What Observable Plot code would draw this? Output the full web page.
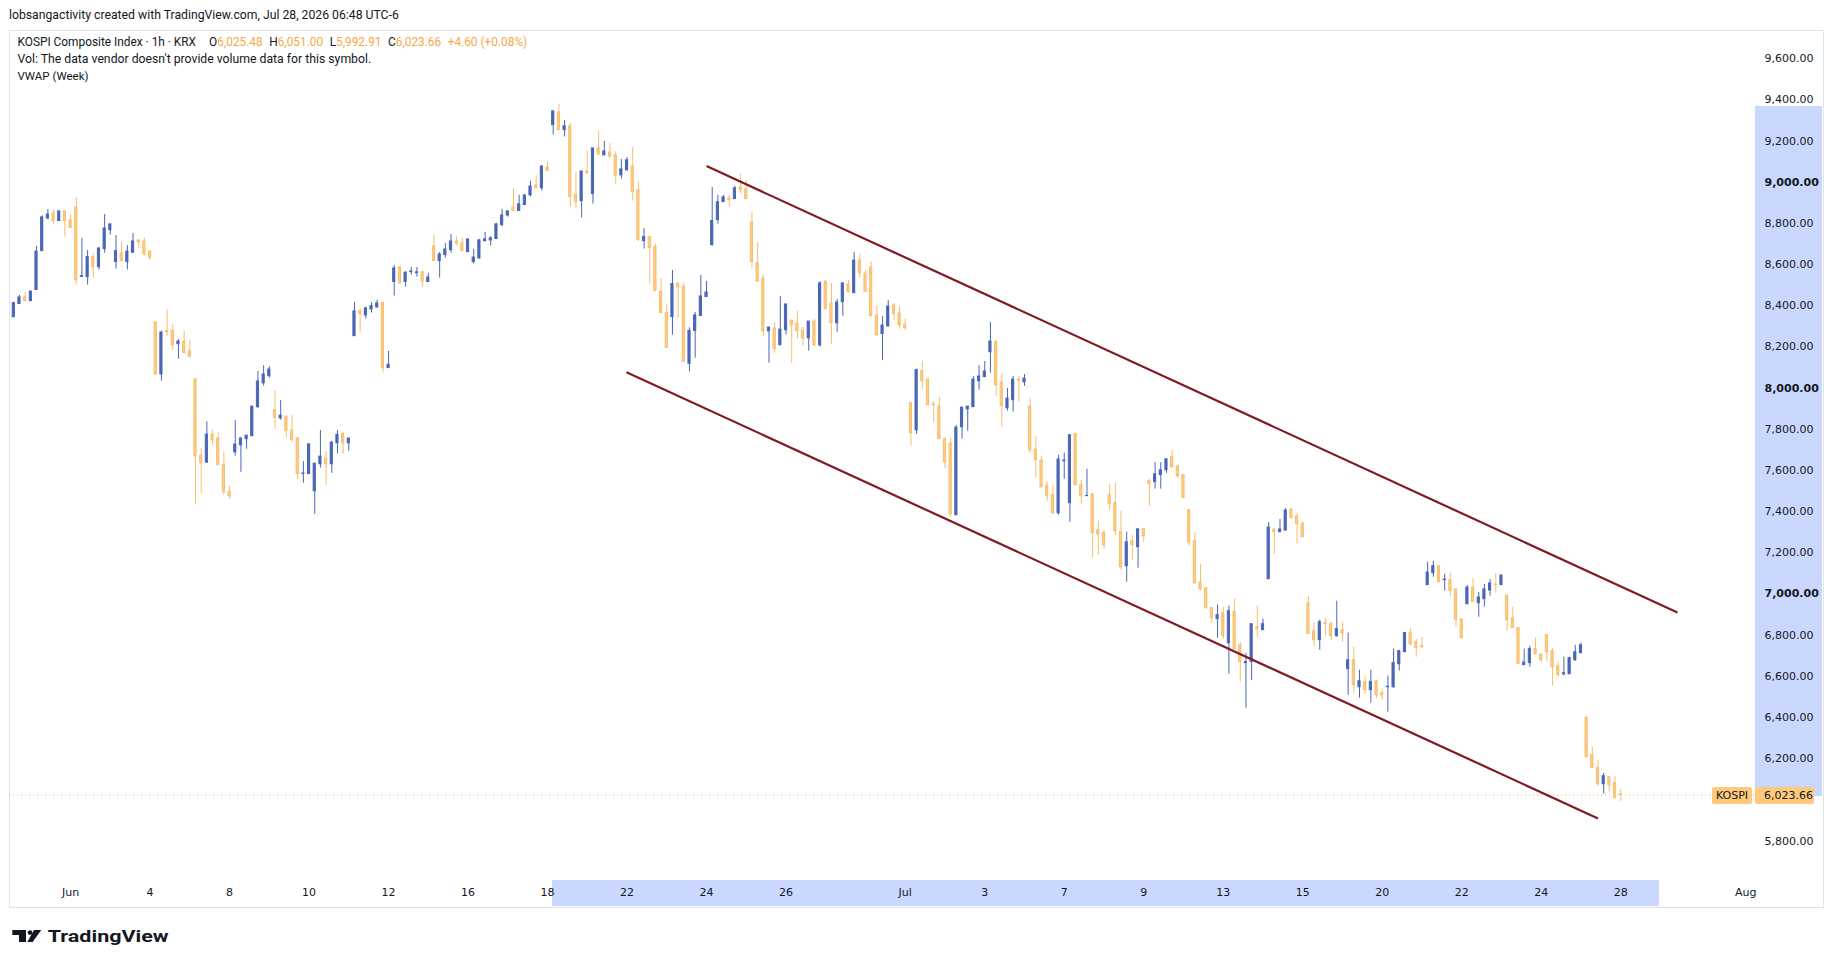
<!DOCTYPE html>
<html><head><meta charset="utf-8">
<script src="https://cdn.jsdelivr.net/npm/d3@7"></script>
<script src="https://cdn.jsdelivr.net/npm/@observablehq/plot@0.6"></script>
<style>
html,body{margin:0;padding:0;background:#fff}
body{width:1835px;height:968px;overflow:hidden;position:relative;color:#131722}
.abs{position:absolute;white-space:nowrap}
.hdr{font-family:"Roboto",sans-serif;font-size:12px;line-height:16px;color:#131722}
.org{color:#f7a846}
#frame{position:absolute;left:9px;top:30px;width:1815px;height:878px;box-sizing:border-box;border:1px solid #e0e3eb}
#chart{position:absolute;left:9px;top:30px;z-index:2}
.band{position:absolute;background:rgb(202,216,255);z-index:1}
.plabel{position:absolute;z-index:3;background:#ffc97c;color:#131722;font-family:"DejaVu Sans",sans-serif;font-size:11px;line-height:17px;height:17px;border-radius:2px}
</style></head><body>
<script>
// ---- data (1h candles, KOSPI Composite Index) ----
const open = [8344,8408,8440,8422,8476,8665,8824,8848,8811,8858,
8814,8877,8540,8539,8636,8587,8675,8767,8612,8654,
8612,8657,8717,8712,8663,8319,8066,8277,8277,8213,
8226,8178,8042,7672,7638,7774,7755,7628,7497,7688,
7722,7752,7766,7907,8023,8058,7891,7853,7862,7794,
7755,7583,7583,7499,7630,7658,7630,7732,7779,7732,
8252,8372,8353,8382,8392,8413,8097,8515,8586,8515,
8563,8558,8562,8515,8688,8617,8646,8670,8712,8702,
8660,8612,8630,8714,8717,8724,8792,8838,8877,8860,
8889,8936,8984,8971,9072,9277,9339,9253,9271,8939,
8908,9052,8942,9164,9130,9144,9130,9033,9057,9076,
8960,8714,8733,8685,8466,8364,8345,8505,8490,8118,
8277,8350,8442,8694,8816,8903,8921,8918,8974,8965,
8803,8605,8532,8276,8289,8208,8281,8328,8313,8279,
8242,8323,8208,8517,8410,8315,8417,8503,8461,8619,
8556,8585,8352,8262,8299,8401,8362,8308,7926,7795,
8082,8038,7920,7910,7750,7730,7382,7810,7897,7907,
8033,8053,8174,8223,8027,7902,7941,8041,8028,7910,
7701,7648,7526,7480,7392,7645,7441,7776,7528,7475,
7484,7310,7295,7480,7441,7300,7135,7256,7227,7314,
7548,7543,7577,7601,7664,7620,7577,7407,7256,7056,
7028,6931,6878,6907,6761,6912,6751,6664,6670,6839,
6824,7072,7313,7300,7308,7410,7376,7339,6954,6819,
6776,6858,6853,6795,6824,6635,6678,6547,6572,6533,
6576,6518,6547,6547,6659,6717,6810,6766,6746,7043,
7101,7135,7067,7067,7022,6876,6950,7031,6955,6975,
7017,7046,7043,6992,6882,6834,6654,6664,6732,6706,
6800,6722,6649,6610,6610,6678,6712,6397,6217,6154,
6076,6110,6081,6025.48];
const high = [8417,8450,8464,8469,8688,8837,8867,8863,8858,8858,
8838,8926,8727,8668,8652,8681,8843,8795,8741,8712,
8693,8751,8717,8727,8668,8319,8277,8377,8309,8236,
8277,8233,8042,7706,7837,7794,7784,7687,7525,7842,
7760,7769,7910,8080,8109,8104,7988,7939,7862,7866,
7763,7643,7729,7633,7794,7692,7740,7794,7779,7755,
8415,8386,8393,8416,8426,8416,8178,8596,8591,8565,
8586,8586,8565,8557,8741,8659,8702,8746,8736,8727,
8722,8673,8722,8756,8736,8800,8868,8858,8970,8936,
8936,9004,9033,9081,9101,9344,9378,9300,9285,9047,
9052,9149,9164,9246,9198,9188,9149,9110,9120,9169,
8999,8775,8738,8699,8529,8406,8571,8515,8510,8293,
8367,8547,8518,8974,8936,8936,8936,8979,9038,9008,
8855,8707,8551,8294,8318,8444,8406,8328,8372,8294,
8323,8333,8517,8517,8508,8430,8512,8522,8658,8648,
8571,8614,8401,8347,8425,8410,8396,8333,7926,8092,
8130,8053,7934,7954,7760,7755,7818,7905,7910,8056,
8109,8129,8318,8231,8070,7998,8056,8056,8066,7949,
7764,7669,7543,7528,7674,7684,7771,7781,7552,7606,
7484,7353,7310,7533,7538,7402,7300,7285,7314,7314,
7557,7638,7638,7654,7698,7625,7577,7407,7300,7145,
7033,6931,6946,6936,6941,6975,6766,6712,6853,6941,
6878,7347,7313,7362,7415,7415,7391,7352,6988,6863,
6873,6882,6863,6965,6863,6810,6741,6630,6596,6630,
6581,6538,6601,6732,6727,6814,6834,6780,6790,7154,
7159,7135,7096,7101,7022,6876,7041,7075,7007,7046,
7070,7099,7090,6992,6936,6834,6732,6746,6785,6708,
6800,6737,6669,6693,6693,6751,6761,6406,6256,6193,
6129,6110,6115,6051.00];
const low = [8344,8408,8422,8422,8476,8665,8816,8796,8811,8733,
8777,8500,8540,8500,8534,8573,8655,8743,8578,8616,
8573,8657,8675,8641,8621,8061,8034,8252,8184,8140,
8170,8150,7435,7489,7635,7722,7625,7480,7460,7669,
7591,7703,7766,7902,8009,8048,7800,7844,7761,7737,
7557,7538,7583,7387,7611,7528,7586,7680,7679,7693,
8252,8271,8335,8364,8387,8073,8097,8447,8505,8490,
8549,8539,8490,8515,8617,8534,8631,8656,8690,8665,
8660,8602,8626,8709,8690,8724,8782,8830,8860,8860,
8889,8928,8971,8957,9054,9229,9253,9219,8879,8869,
8826,9038,8893,9130,9130,9115,8991,9015,9057,8908,
8709,8675,8505,8471,8364,8194,8257,8340,8128,8079,
8145,8350,8442,8690,8796,8903,8879,8918,8942,8918,
8583,8515,8252,8121,8169,8208,8257,8121,8237,8203,
8179,8198,8198,8383,8213,8271,8349,8466,8461,8534,
8466,8349,8252,8135,8299,8329,8286,8281,7718,7776,
7994,7917,7834,7752,7611,7373,7382,7752,7790,7907,
7990,8053,8072,7960,7810,7888,7883,7931,8009,7684,
7562,7518,7450,7387,7382,7557,7348,7528,7436,7475,
7178,7188,7217,7407,7285,7115,7057,7164,7125,7251,
7426,7509,7509,7586,7611,7562,7465,7232,7047,7014,
6926,6858,6785,6780,6610,6732,6572,6445,6580,6790,
6824,7072,7193,7300,7305,7362,7242,7276,6805,6746,
6727,6795,6776,6790,6766,6508,6518,6494,6513,6470,
6494,6484,6426,6542,6625,6717,6746,6693,6741,7043,
7081,7057,7014,6989,6839,6785,6950,6960,6887,6936,
6989,7004,7043,6819,6834,6659,6654,6644,6703,6669,
6673,6552,6596,6601,6610,6673,6712,6207,6154,6066,
6028,6037,6008,5992.91];
const close = [8412,8440,8422,8469,8663,8829,8843,8811,8858,8811,
8777,8524,8544,8636,8587,8678,8775,8795,8665,8616,
8663,8712,8709,8649,8631,8066,8270,8272,8208,8226,
8170,8150,7669,7635,7774,7747,7625,7494,7475,7726,
7755,7769,7910,8032,8066,8090,7855,7866,7792,7748,
7583,7585,7726,7633,7667,7630,7735,7773,7732,7755,
8372,8360,8387,8398,8411,8097,8113,8581,8508,8560,
8566,8562,8518,8537,8617,8649,8673,8712,8702,8665,
8722,8634,8717,8722,8727,8795,8838,8858,8860,8892,
8936,8979,8971,9076,9054,9344,9253,9271,8928,8905,
9052,9042,9164,9135,9149,9125,9033,9062,9106,8952,
8719,8733,8680,8471,8364,8194,8505,8490,8128,8278,
8353,8445,8464,8811,8902,8926,8913,8970,8961,8918,
8612,8518,8276,8294,8189,8284,8406,8305,8276,8242,
8323,8208,8508,8383,8315,8415,8508,8466,8619,8558,
8466,8349,8257,8304,8396,8359,8305,8291,7781,8087,
8033,7917,7917,7752,7640,7387,7808,7905,7910,8041,
8056,8080,8226,8014,7912,7949,8041,8038,8046,7698,
7650,7518,7475,7392,7653,7648,7771,7528,7475,7476,
7295,7290,7237,7436,7305,7130,7251,7237,7314,7280,
7533,7581,7601,7654,7615,7572,7465,7251,7052,7023,
6931,6882,6897,6795,6916,6732,6669,6669,6853,6829,
6853,7323,7300,7313,7405,7371,7339,7276,6805,6776,
6863,6853,6795,6829,6810,6678,6557,6576,6533,6572,
6508,6508,6549,6664,6722,6810,6756,6737,6741,7104,
7135,7057,7070,7014,6873,6785,7031,6960,6983,7022,
7051,7043,7090,6873,6834,6659,6667,6732,6708,6678,
6717,6644,6606,6615,6688,6717,6751,6207,6154,6076,
6115,6071,6008,6023.66];

// x axis: bar index of each date label
const xTickIdx    = [10,24,38,52,66,80,94,108,122,136,157,171,185,199,213,227,241,255,269,283,305];
const xTickLabels = ["Jun","4","8","10","12","16","18","22","24","26","Jul","3","7","9","13","15","20","22","24","28","Aug"];
// y axis ticks (6,000.00 is hidden behind the last-price label in the reference)
const yTicks     = [5800,6200,6400,6600,6800,7200,7400,7600,7800,8200,8400,8600,8800,9200,9400,9600];
const yTicksBold = [7000,8000,9000];
// descending channel (bar index, price)
const channelStartIdx = [122.0, 107.9];
const channelStartPx  = [9078, 8077];
const channelEndIdx   = [293.0, 279.0];
const channelEndPx    = [6910, 5910];
// selection highlight of the drawing
const selIdx = [94.9, 289.9];
const selPx  = [9367, 6017];
const lastClose = 6023.66;

const BLUE = "#4a66b5", OFILL = "#ffcd85", OSTROKE = "#f8bd6c";

const bars = close.map((c, i) => ({i, o: open[i], h: high[i], l: low[i], c}));
const ups = bars.filter(d => d.c >= d.o);
const downs = bars.filter(d => d.c < d.o);
const channels = channelStartIdx.map((s, k) => ({i1: s, p1: channelStartPx[k], i2: channelEndIdx[k], p2: channelEndPx[k]}));
const fmt = d3.format(",.2f");

const W = 1814, H = 877, MR = 68, MB = 27;
const plot = Plot.plot({
  width: W, height: H,
  marginLeft: 0, marginRight: MR, marginTop: 0, marginBottom: MB,
  style: {background: "transparent", fontFamily: "DejaVu Sans", fontSize: "11px", color: "#131722", overflow: "visible"},
  x: {domain: [-0.757, 306.74]},
  y: {domain: [5608.4, 9736.6]},
  marks: [
    Plot.ruleY([lastClose], {stroke: "#f7a846", strokeDasharray: "1,3", strokeWidth: 1}),
    Plot.ruleX(downs, {x: "i", y1: "l", y2: "h", stroke: OSTROKE, strokeWidth: 1}),
    Plot.ruleX(ups, {x: "i", y1: "l", y2: "h", stroke: BLUE, strokeWidth: 1}),
    Plot.rect(downs, {x1: d => d.i - 0.19, x2: d => d.i + 0.19, y1: "o", y2: "c", fill: OFILL, stroke: OSTROKE, strokeWidth: 1}),
    Plot.rect(ups, {x1: d => d.i - 0.19, x2: d => d.i + 0.19, y1: "o", y2: "c", fill: BLUE, stroke: BLUE, strokeWidth: 1}),
    Plot.link(channels, {x1: "i1", y1: "p1", x2: "i2", y2: "p2", stroke: "#801922", strokeWidth: 2.2}),
    Plot.axisY(yTicks, {anchor: "right", tickSize: 0, tickPadding: 9, tickFormat: fmt, fill: "#131722"}),
    Plot.axisY(yTicksBold, {anchor: "right", tickSize: 0, tickPadding: 9, tickFormat: fmt, fill: "#131722", fontWeight: "bold"}),
    Plot.axisX(xTickIdx, {anchor: "bottom", tickSize: 0, tickPadding: 8, tickFormat: d => xTickLabels[xTickIdx.indexOf(d)], fill: "#131722"})
  ]
});
plot.id = "chart";

const frame = document.createElement("div"); frame.id = "frame";
document.body.appendChild(frame);
document.body.appendChild(plot);

const xs = plot.scale("x"), ys = plot.scale("y");
const OX = 9, OY = 30;
function addDiv(cls, css, html) {
  const d = document.createElement("div");
  d.className = cls; Object.assign(d.style, css);
  if (html != null) d.innerHTML = html;
  document.body.appendChild(d); return d;
}
// selection bands
addDiv("band", {left: (OX + xs.apply(selIdx[0])) + "px", width: (xs.apply(selIdx[1]) - xs.apply(selIdx[0])) + "px", top: (OY + H - MB) + "px", height: (MB - 1) + "px"});
addDiv("band", {left: (OX + W - MR) + "px", width: (MR - 1) + "px", top: (OY + ys.apply(selPx[0])) + "px", height: (ys.apply(selPx[1]) - ys.apply(selPx[0])) + "px"});
// last price labels
const yl = OY + ys.apply(lastClose) + 1;
addDiv("plabel", {left: (OX + W - MR) + "px", width: "59px", top: (yl - 8.5) + "px", boxSizing: "border-box", paddingLeft: "9px"}, fmt(lastClose));
addDiv("plabel", {left: (OX + W - MR - 43) + "px", width: "40px", top: (yl - 8.5) + "px", textAlign: "center"}, "KOSPI");

// header
const h1 = addDiv("abs hdr", {left: "9px", top: "6.5px"}, "lobsangactivity created with TradingView.com, Jul 28, 2026 06:48 UTC-6");
const sp = '<span style="display:inline-block;width:0.55em"></span>';
const h2 = addDiv("abs hdr", {left: "17.5px", top: "33.5px"},
  "KOSPI Composite Index · 1h · KRX" + sp + sp + "O<span class='org'>" + fmt(open[open.length-1]) + "</span>" + sp +
  "H<span class='org'>" + fmt(high[high.length-1]) + "</span>" + sp +
  "L<span class='org'>" + fmt(low[low.length-1]) + "</span>" + sp +
  "C<span class='org'>" + fmt(lastClose) + "</span>" + sp +
  "<span class='org'>+4.60 (+0.08%)</span>");
const h3 = addDiv("abs hdr", {left: "17.5px", top: "50.5px"}, "Vol: The data vendor doesn't provide volume data for this symbol.");
const h4 = addDiv("abs hdr", {left: "17.5px", top: "67.5px"}, "VWAP (Week)");
function fit(el, target) {
  const w = el.getBoundingClientRect().width;
  const fs = parseFloat(getComputedStyle(el).fontSize);
  el.style.fontSize = (fs * target / w) + "px";
}
fit(h1, 390); fit(h2, 510); fit(h3, 354); fit(h4, 71);

// TradingView logo
const logo = addDiv("abs", {left: "0px", top: "918px"},
  '<svg width="200" height="40" xmlns="http://www.w3.org/2000/svg">' +
  '<path d="M12.3 12 H26 V24 H19 V17 H12.3 Z" fill="#131722"/>' +
  '<circle cx="30" cy="14.6" r="2.3" fill="#131722"/>' +
  '<path d="M34 12 H41.3 L32.6 24 H27.3 Z" fill="#131722"/>' +
  '<text x="47.7" y="24.3" font-family="Roboto, sans-serif" font-weight="bold" font-size="17" textLength="121" lengthAdjust="spacingAndGlyphs" fill="#131722">TradingView</text>' +
  '</svg>');
</script>
</body></html>
